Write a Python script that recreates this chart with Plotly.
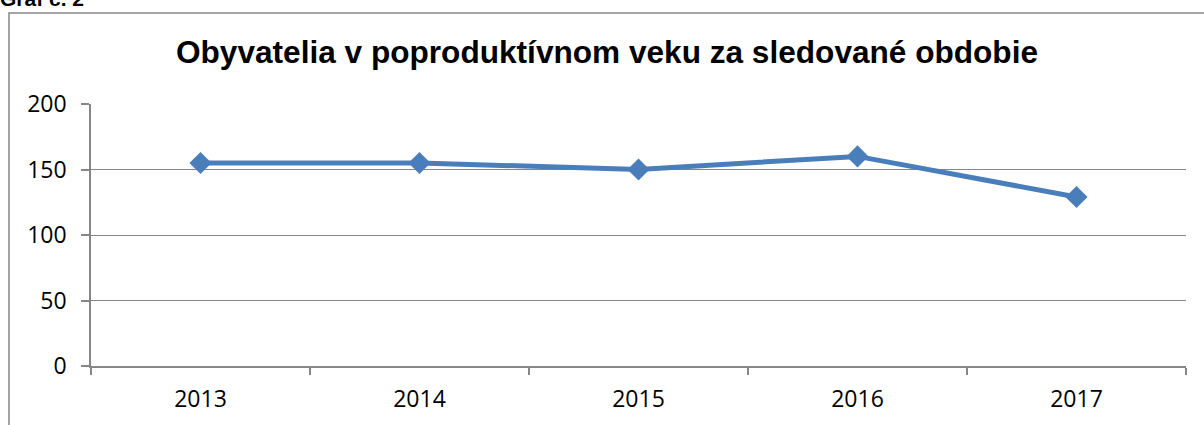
import plotly.graph_objects as go

years = ["2013", "2014", "2015", "2016", "2017"]
values = [155, 155, 150, 160, 129]
y_ticks = [0, 50, 100, 150, 200]
title_text = "Obyvatelia v poproduktívnom veku za sledované obdobie"
caption_text = "Graf č. 2"

W, H = 1204, 425
L, R, T, B = 91, 18, 104, 59
pw, ph = W - L - R, H - T - B

def px_to_paper_x(x):
    return (x - L) / pw

def px_to_paper_y(y):
    return (H - B - y) / ph

grey = "#868686"
blue = "#4a7ebb"

fig = go.Figure()
fig.add_trace(go.Scatter(
    x=years, y=values, mode="lines+markers",
    line=dict(color=blue, width=5),
    marker=dict(symbol="diamond", size=17, color=blue),
    showlegend=False, cliponaxis=False,
))

fig.update_layout(
    width=W, height=H,
    margin=dict(l=L, r=R, t=T, b=B, pad=0),
    paper_bgcolor="white", plot_bgcolor="white",
    font=dict(family="Open Sans, Liberation Sans, sans-serif", color="black", size=23),
    xaxis=dict(
        type="category", range=[-0.5, 4.5],
        showgrid=False, showline=True, linecolor=grey, linewidth=1.5,
        ticks="outside", tickson="boundaries", ticklen=7, tickcolor=grey, tickwidth=1.5,
        ticklabelstandoff=12,
        tickfont=dict(size=23),
        zeroline=False, fixedrange=True,
    ),
    yaxis=dict(
        range=[0, 200], tickvals=y_ticks,
        showgrid=True, gridcolor=grey, gridwidth=1.3,
        showline=True, linecolor=grey, linewidth=1.5,
        ticks="outside", ticklen=8, tickcolor=grey, tickwidth=1.5,
        ticklabelstandoff=10,
        tickfont=dict(size=23),
        zeroline=False, fixedrange=True,
    ),
    shapes=[dict(
        type="rect", xref="paper", yref="paper",
        x0=px_to_paper_x(9), x1=px_to_paper_x(W + 10),
        y0=px_to_paper_y(H + 10), y1=px_to_paper_y(13),
        line=dict(color=grey, width=1.5), fillcolor="rgba(0,0,0,0)", layer="below",
    )],
    annotations=[
        dict(text="<b>" + title_text + "</b>", xref="paper", yref="paper",
             x=px_to_paper_x(607), y=px_to_paper_y(52), xanchor="center", yanchor="middle",
             showarrow=False,
             font=dict(family="Liberation Sans, Arial, sans-serif", size=31.6, color="black")),
        dict(text="<b>" + caption_text + "</b>", xref="paper", yref="paper",
             x=px_to_paper_x(-2), y=px_to_paper_y(12), xanchor="left", yanchor="bottom",
             showarrow=False,
             font=dict(family="Liberation Sans, Arial, sans-serif", size=21, color="black")),
    ],
)

fig.write_html("out.html", config={"displayModeBar": False},
               post_script="document.body.style.margin='0';")
